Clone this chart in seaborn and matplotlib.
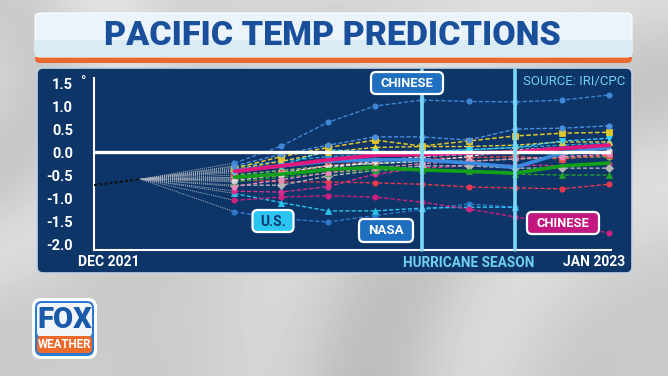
import numpy as np
import pandas as pd
import matplotlib
matplotlib.use("Agg")
import matplotlib.pyplot as plt
import seaborn as sns
from matplotlib.patches import FancyBboxPatch

# ---------------- data ----------------
steps = [3, 4, 5, 6, 7, 8, 9, 10, 11]
start_steps = [0, 1]
start_values = [-0.72, -0.59]
hurricane_season_steps = [7, 9]
y_ticks = [-2.0, -1.5, -1.0, -0.5, 0.0, 0.5, 1.0, 1.5]
y_tick_labels = ["-2.0", "-1.5", "-1.0", "-0.5", "0.0", "0.5", "1.0", "1.5"]

chinese_blue = [-0.24, 0.13, 0.65, 1.00, 1.13, 1.10, 1.09, 1.13, 1.24]
us_blue = [-1.30, -1.45, -1.52, -1.38, -1.25, -1.13, -1.20, np.nan, np.nan]
nasa_cyan = [-0.90, -1.10, -1.28, -1.28, -1.22, -1.20, -1.20, np.nan, np.nan]
chinese_magenta = [-1.05, -0.98, -0.95, -0.98, -1.09, -1.24, -1.41, -1.58, -1.76]
magenta_rise = [-0.85, -0.87, -0.75, -0.48, -0.35, -0.30, -0.28, -0.30, -0.25]
red_flat = [-0.60, -0.65, -0.65, -0.67, -0.70, -0.76, -0.78, -0.80, -0.70]
gray_a = [-0.72, -0.72, -0.52, -0.40, -0.30, -0.30, -0.35, -0.35, -0.35]
green_thick = [-0.55, -0.48, -0.38, -0.33, -0.39, -0.42, -0.46, -0.30, -0.24]
magenta_thick = [-0.42, -0.30, -0.17, -0.07, -0.05, -0.02, 0.00, 0.08, 0.15]
blue_thick = [-0.40, -0.30, -0.20, -0.17, -0.17, -0.24, -0.33, -0.02, 0.10]
yellow_a = [-0.35, -0.10, 0.10, 0.26, 0.13, 0.24, 0.35, 0.41, 0.43]
blue_top = [-0.30, -0.05, 0.15, 0.33, 0.33, 0.26, 0.50, 0.52, 0.57]
yellow_b = [-0.38, -0.20, 0.00, 0.10, 0.12, 0.12, 0.15, 0.22, 0.22]
cyan_a = [-0.45, -0.30, 0.05, 0.00, 0.00, 0.05, 0.10, 0.24, 0.30]
green_low = [-0.65, -0.55, -0.45, -0.40, -0.40, -0.42, -0.48, -0.50, -0.50]
lightgreen = [-0.50, -0.40, -0.30, -0.25, -0.20, -0.20, -0.15, -0.12, -0.10]
red_dash = [-0.55, -0.45, -0.30, -0.20, -0.15, -0.12, -0.10, -0.15, -0.07]
lightgray = [-0.62, -0.50, -0.35, -0.20, -0.10, -0.05, 0.00, -0.05, 0.02]
pink = [-0.75, -0.60, -0.45, -0.35, -0.25, -0.20, -0.15, -0.10, -0.05]
whiteish = [-0.58, -0.45, -0.30, -0.25, -0.20, -0.10, 0.05, 0.10, 0.10]
teal = [-0.32, -0.20, -0.10, -0.05, 0.02, 0.05, 0.10, 0.15, 0.20]

models = {
    "chinese_blue": chinese_blue, "us_blue": us_blue, "nasa_cyan": nasa_cyan,
    "chinese_magenta": chinese_magenta, "magenta_rise": magenta_rise,
    "red_flat": red_flat, "gray_a": gray_a, "green_low": green_low,
    "lightgreen": lightgreen, "red_dash": red_dash, "lightgray": lightgray,
    "pink": pink, "whiteish": whiteish, "teal": teal, "yellow_b": yellow_b,
    "cyan_a": cyan_a, "yellow_a": yellow_a, "blue_top": blue_top,
    "green_thick": green_thick, "blue_thick": blue_thick, "magenta_thick": magenta_thick,
}

# ---------------- styles ----------------
styles = {
    "chinese_blue": ("#3f86d6", 1.0, (0, (3, 1.5)), "o"),
    "us_blue": ("#2f78cc", 1.0, (0, (3, 1.5)), "o"),
    "nasa_cyan": ("#2cc3ef", 1.0, (0, (3, 1.5)), "^"),
    "chinese_magenta": ("#d0207f", 1.0, (0, (3, 1.5)), "o"),
    "magenta_rise": ("#d8308a", 1.0, (0, (3, 1.5)), "o"),
    "red_flat": ("#e8394e", 1.0, (0, (3, 1.5)), "o"),
    "gray_a": ("#b5b5b5", 1.0, (0, (3, 1.5)), "D"),
    "green_low": ("#22a02a", 1.0, (0, (3, 1.5)), "^"),
    "lightgreen": ("#7cc46b", 1.0, (0, (3, 1.5)), "o"),
    "red_dash": ("#ee4c4c", 1.0, (0, (3, 1.5)), "s"),
    "lightgray": ("#cfcfcf", 1.0, (0, (3, 1.5)), "o"),
    "pink": ("#e98abb", 1.0, (0, (3, 1.5)), "o"),
    "whiteish": ("#e8e8e8", 0.9, (0, (3, 1.5)), "x"),
    "teal": ("#2a9fd6", 1.0, (0, (3, 1.5)), "o"),
    "yellow_b": ("#e8cf3a", 1.0, (0, (3, 1.5)), "^"),
    "cyan_a": ("#39d0f5", 1.0, (0, (3, 1.5)), "v"),
    "yellow_a": ("#e3c52a", 1.1, (0, (3, 1.5)), "s"),
    "blue_top": ("#4a8fe0", 1.0, (0, (3, 1.5)), "o"),
    "green_thick": ("#14a11a", 2.6, "-", None),
    "blue_thick": ("#3a8be0", 2.6, "-", None),
    "magenta_thick": ("#e0187e", 2.8, "-", None),
}

W, H = 668, 376
sns.set_theme(style="white")
plt.rcParams["font.family"] = ["Roboto", "DejaVu Sans"]

fig = plt.figure(figsize=(W / 100, H / 100), dpi=100)

# ---------------- background layer (pixel coordinates) ----------------
bg = fig.add_axes([0, 0, 1, 1])
bg.axis("off")
yy, xx = np.mgrid[0:H, 0:W]
r1 = np.hypot(xx - 720, yy - 430)
r2 = np.hypot(xx + 60, yy - 80)
img = (0.84 - 0.04 * (yy / H)
       + 0.06 * np.cos(r1 / 38.0) * np.exp(-((r1 - 330) / 180) ** 2)
       + 0.05 * np.cos(r2 / 30.0) * np.exp(-((r2 - 140) / 120) ** 2))
bg.imshow(img, extent=(0, W, H, 0), cmap="gray", vmin=0, vmax=1, aspect="auto")
bg.set_xlim(0, W)
bg.set_ylim(H, 0)

# title banner
bg.add_patch(FancyBboxPatch((35, 40), 597, 23, boxstyle="round,pad=0,rounding_size=5",
                            fc="#e9682f", ec="none"))
bg.add_patch(FancyBboxPatch((35, 13), 597, 44, boxstyle="round,pad=0,rounding_size=5",
                            fc="#eaf4fa", ec="white", lw=0.8))
bg.add_patch(FancyBboxPatch((35, 40), 597, 17, boxstyle="square,pad=0",
                            fc="#d9ecf6", ec="none"))
bg.text(332, 36, "PACIFIC TEMP PREDICTIONS", ha="center", va="center",
        fontsize=24.5, fontweight="heavy", color="#1a4f9c")

# navy panel
bg.add_patch(FancyBboxPatch((37, 68), 595, 205, boxstyle="round,pad=0,rounding_size=6",
                            fc="#0d3568", ec="#c3d2e2", lw=1.2))

# FOX WEATHER logo
bg.add_patch(FancyBboxPatch((32, 298), 65, 61, boxstyle="round,pad=0,rounding_size=9",
                            fc="white", ec="none"))
bg.add_patch(FancyBboxPatch((35, 301), 59, 55, boxstyle="round,pad=0,rounding_size=7",
                            fc="#2b7ad0", ec="none"))
bg.add_patch(FancyBboxPatch((37, 303), 55, 34, boxstyle="round,pad=0,rounding_size=5",
                            fc="#f2f6fb", ec="none"))
bg.add_patch(FancyBboxPatch((37, 336), 55, 17, boxstyle="round,pad=0,rounding_size=4",
                            fc="#eb6a2c", ec="none"))
bg.text(64.5, 320, "FOX", ha="center", va="center", fontsize=21, fontweight="heavy",
        color="#1a5aab")
bg.text(64.5, 345, "WEATHER", ha="center", va="center", fontsize=8.3, fontweight="bold",
        color="white", family=["Liberation Sans Narrow", "Roboto", "DejaVu Sans"])

# ---------------- main chart axes ----------------
x_left, x_right, y_top, y_bot = 94, 611, 78, 250
ax = fig.add_axes([x_left / W, 1 - y_bot / H, (x_right - x_left) / W, (y_bot - y_top) / H])
ax.set_facecolor("none")
ax.set_xlim(0, 11.04)
ax.set_ylim(-2.13, 1.61)

# lead-in lines
sns.lineplot(x=start_steps, y=start_values, ax=ax, color="#111111", lw=1.5,
             linestyle=(0, (1.5, 1)), zorder=3)
for name, vals in models.items():
    sns.lineplot(x=[start_steps[-1], steps[0]], y=[start_values[-1], vals[0]], ax=ax,
                 color="#aab3bd", lw=0.7, linestyle=(0, (1, 1)), zorder=2)

# model lines
rows = []
for name, vals in models.items():
    for s, v in zip(steps, vals):
        rows.append({"step": s, "value": v, "model": name})
df = pd.DataFrame(rows)
for i, (name, vals) in enumerate(models.items()):
    color, lw, ls, mk = styles[name]
    sub = df[(df["model"] == name)].dropna()
    kw = dict(marker=mk, markersize=3.8, markeredgewidth=0.6, markeredgecolor=color) if mk else {}
    sns.lineplot(data=sub, x="step", y="value", ax=ax, color=color, lw=lw,
                 linestyle=ls, zorder=4 + i * 0.01, clip_on=False, **kw)

# zero line and hurricane season lines
ax.axhline(0, color="white", lw=2.4, zorder=10)
for s in hurricane_season_steps:
    ax.axvline(s, ymin=0, ymax=1.045, color="#7fd9f6", lw=2.6, zorder=11, clip_on=False)

ax.set_xlabel("")
ax.set_ylabel("")
ax.set_xticks([])
ax.set_yticks(y_ticks)
ax.set_yticklabels(y_tick_labels)
ax.tick_params(axis="y", length=0, pad=15, labelsize=10.5, labelcolor="white")
for lab in ax.get_yticklabels():
    lab.set_fontweight("bold")
for side in ["top", "right"]:
    ax.spines[side].set_visible(False)
for side in ["left", "bottom"]:
    ax.spines[side].set_visible(True)
    ax.spines[side].set_color("white")
    ax.spines[side].set_linewidth(1.5)
ax.grid(False)

# ---------------- overlay (labels) ----------------
ov = fig.add_axes([0, 0, 1, 1])
ov.set_facecolor("none")
ov.axis("off")
ov.set_xlim(0, W)
ov.set_ylim(H, 0)


def label_box(cx, cy, w, h, text, fc, tc, size):
    ov.add_patch(FancyBboxPatch((cx - w / 2, cy - h / 2), w, h,
                                boxstyle="round,pad=0,rounding_size=5",
                                fc=fc, ec="white", lw=1.6, zorder=5))
    ov.text(cx, cy + 0.5, text, ha="center", va="center", fontsize=size,
            fontweight="bold", color=tc, zorder=6)


label_box(407, 83, 72, 22, "CHINESE", "#1e6fc0", "white", 9.3)
label_box(273, 221, 41, 22, "U.S.", "#2ac6f1", "#0d3568", 10)
label_box(386, 230.5, 54, 23, "NASA", "#1e6fc0", "white", 9.5)
label_box(563, 223, 72, 22, "CHINESE", "#c2177f", "white", 9.3)

ov.text(80, 86, "°", ha="left", va="baseline", fontsize=10, fontweight="bold", color="white")
ov.text(625, 81, "SOURCE: IRI/CPC", ha="right", va="center", fontsize=9.5,
        color="#6fcfee")
ov.text(78, 262, "DEC 2021", ha="left", va="center", fontsize=10, fontweight="bold",
        color="white")
ov.text(469, 263, "HURRICANE SEASON", ha="center", va="center", fontsize=9.8,
        fontweight="bold", color="#6fcfee")
ov.text(625, 262, "JAN 2023", ha="right", va="center", fontsize=10, fontweight="bold",
        color="white")

fig.savefig("out.png", dpi=100)
